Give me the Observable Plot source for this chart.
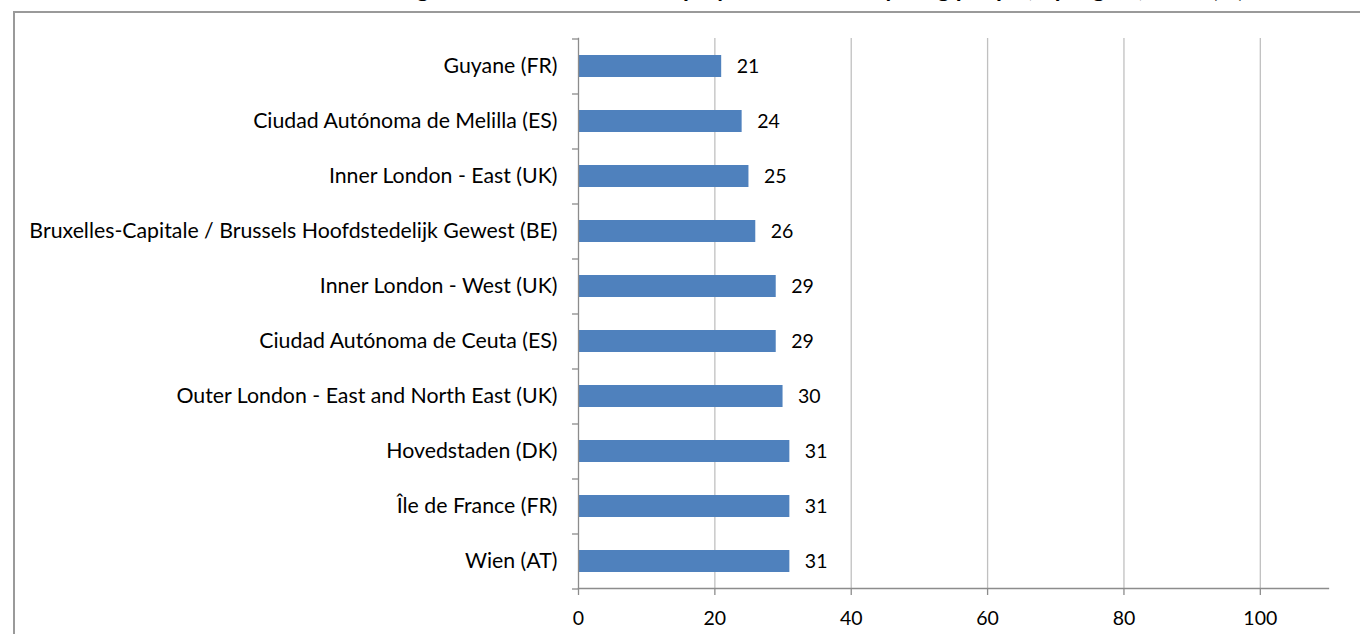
<!DOCTYPE html>
<html>
<head>
<meta charset="utf-8">
<script src="https://cdn.jsdelivr.net/npm/d3@7"></script>
<script src="https://cdn.jsdelivr.net/npm/@observablehq/plot@0.6"></script>
<style>
  html, body { margin: 0; padding: 0; background: #fff; overflow: hidden; }
  body { width: 1360px; height: 634px; position: relative; font-family: Lato, "Open Sans", sans-serif; }
  #title { position: absolute; left: 0; width: 1550px; top: -24.5px; line-height: 1; text-align: center; font-weight: bold; font-size: 24px; color: #000; white-space: nowrap; }
  #frame { position: absolute; left: 13px; top: 11px; width: 1400px; height: 700px; border-top: 2px solid #9a9a9a; border-left: 2px solid #9a9a9a; }
  #chart { position: absolute; left: 0; top: 0; }
</style>
</head>
<body>
<div id="frame"></div>
<div id="title">NUTS 2 regions with the lowest employment rates for young people, by region, 2012 (%)</div>
<div id="chart"></div>
<script>
const regions = [
  "Guyane (FR)",
  "Ciudad Autónoma de Melilla (ES)",
  "Inner London - East (UK)",
  "Bruxelles-Capitale / Brussels Hoofdstedelijk Gewest (BE)",
  "Inner London - West (UK)",
  "Ciudad Autónoma de Ceuta (ES)",
  "Outer London - East and North East (UK)",
  "Hovedstaden (DK)",
  "Île de France (FR)",
  "Wien (AT)"
];
const values = [21, 24, 25, 26, 29, 29, 30, 31, 31, 31];
const xTicks = [0, 20, 40, 60, 80, 100];
const xDomain = [0, 110];

const data = regions.map((r, i) => ({region: r, value: values[i]}));

const fsLabel = 21.3;
const fsNum = 19.5;
const axisColor = "#8c8c8c";
const gridColor = "#c0c0c0";

const chart = Plot.plot({
  width: 1360,
  height: 634,
  marginLeft: 578,
  marginRight: 32,
  marginTop: 38,
  marginBottom: 46,
  style: {fontFamily: "Lato, 'Open Sans', sans-serif", fontSize: fsNum + "px", color: "#000", background: "transparent"},
  x: {domain: xDomain},
  y: {domain: regions, paddingInner: 0.6, paddingOuter: 0.3},
  marks: [
    Plot.ruleX(xTicks.filter(d => d > 0), {stroke: gridColor, strokeWidth: 1.3}),
    Plot.barX(data, {y: "region", x: "value", fill: "#4f81bd"}),
    Plot.text(data, {y: "region", x: "value", text: d => d3.format(".0f")(d.value), textAnchor: "start", dx: 15, fill: "#000", fontSize: fsNum}),
    Plot.frame({anchor: "left", stroke: axisColor, strokeWidth: 1.3}),
    Plot.frame({anchor: "bottom", stroke: axisColor, strokeWidth: 1.3}),
    Plot.axisY({tickSize: 0, tickPadding: 21, fontSize: fsLabel, label: null, fill: "#000"}),
    Plot.axisY({text: null, tickSize: 6, dy: -27.5, stroke: axisColor, strokeWidth: 1.3, label: null}),
    Plot.axisY(regions.slice(-1), {text: null, tickSize: 6, dy: 27.5, stroke: axisColor, strokeWidth: 1.3, label: null}),
    Plot.axisX(xTicks, {tickSize: 7, tickPadding: 16, fontSize: fsNum, stroke: axisColor, strokeWidth: 1.3, label: null, fill: "#000"})
  ]
});
document.getElementById("chart").append(chart);
</script>
</body>
</html>
